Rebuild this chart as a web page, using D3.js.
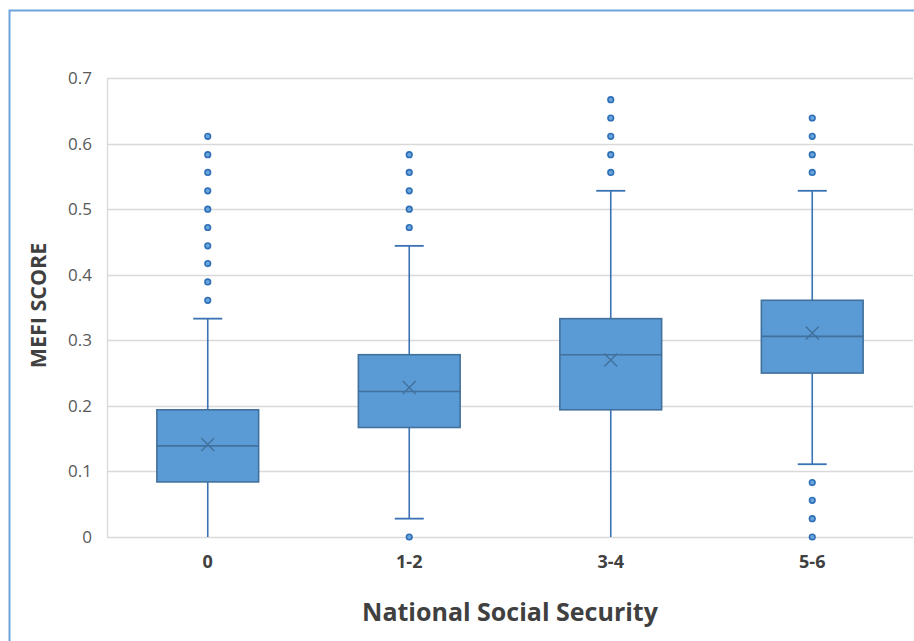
<!DOCTYPE html>
<html>
<head>
<meta charset="utf-8">
<script src="https://cdn.jsdelivr.net/npm/d3@7/dist/d3.min.js"></script>
<style>
  html, body { margin: 0; padding: 0; background: #fff; }
  svg { display: block; }
</style>
</head>
<body>
<svg id="chart" width="914" height="641"></svg>
<script>
// ---- Data ----
const categories = ["0", "1-2", "3-4", "5-6"];
const whiskerLow  = [0.000, 0.028, 0.000, 0.111];
const q1          = [0.084, 0.167, 0.194, 0.250];
const median      = [0.139, 0.222, 0.278, 0.306];
const q3          = [0.194, 0.278, 0.333, 0.361];
const whiskerHigh = [0.333, 0.444, 0.528, 0.528];
const means       = [0.141, 0.228, 0.270, 0.311];
const outliers = [
  [0.361, 0.389, 0.417, 0.444, 0.472, 0.500, 0.528, 0.556, 0.583, 0.611],
  [0.000, 0.472, 0.500, 0.528, 0.556, 0.583],
  [0.556, 0.583, 0.611, 0.639, 0.667],
  [0.000, 0.028, 0.056, 0.083, 0.556, 0.583, 0.611, 0.639]
];
const yTicks = [0, 0.1, 0.2, 0.3, 0.4, 0.5, 0.6, 0.7];
const yTitle = "MEFI SCORE";
const xTitle = "National Social Security";

// ---- Layout ----
const W = 914, H = 641;
const plot = { left: 107, right: 913, top: 78, bottom: 537 };
const svg = d3.select("#chart");

// Frame
svg.append("rect")
  .attr("x", 9.5).attr("y", 10.5)
  .attr("width", W + 20).attr("height", H + 20)
  .attr("fill", "none").attr("stroke", "#6fa3dc").attr("stroke-width", 2);

const x = d3.scaleBand().domain(categories).range([plot.left, plot.right]).padding(0);
const y = d3.scaleLinear().domain([0, 0.7]).range([plot.bottom, plot.top]);

// Gridlines
svg.append("g").selectAll("line").data(yTicks).join("line")
  .attr("x1", plot.left).attr("x2", plot.right)
  .attr("y1", d => Math.round(y(d)) + 0.5).attr("y2", d => Math.round(y(d)) + 0.5)
  .attr("stroke", "#d9d9d9").attr("stroke-width", 1.3);

// Y axis line
svg.append("line")
  .attr("x1", plot.left + 0.5).attr("x2", plot.left + 0.5)
  .attr("y1", plot.top).attr("y2", plot.bottom)
  .attr("stroke", "#d9d9d9").attr("stroke-width", 1.3);

// Y axis tick labels
const yAxis = d3.axisLeft(y).tickValues(yTicks).tickSize(0).tickPadding(0)
  .tickFormat(d => d === 0 ? "0" : d3.format(".1f")(d));
const gy = svg.append("g").attr("transform", `translate(${plot.left - 15},0)`).call(yAxis);
gy.select(".domain").remove();
gy.selectAll("text")
  .attr("font-family", "'Open Sans', sans-serif").attr("font-size", 17)
  .attr("fill", "#595959");

// X axis tick labels
const xAxis = d3.axisBottom(x).tickSize(0).tickPadding(0);
const gx = svg.append("g").attr("transform", `translate(0,${plot.bottom + 18})`).call(xAxis);
gx.select(".domain").remove();
gx.selectAll("text")
  .attr("font-family", "'Open Sans', sans-serif").attr("font-size", 18)
  .attr("font-weight", "bold").attr("fill", "#404040");

// Axis titles
svg.append("text")
  .attr("transform", `translate(46,${(plot.top + plot.bottom) / 2 - 2}) rotate(-90)`)
  .attr("text-anchor", "middle")
  .attr("font-family", "'Open Sans', sans-serif").attr("font-size", 21.5)
  .attr("font-weight", "bold").attr("fill", "#404040")
  .text(yTitle);

svg.append("text")
  .attr("x", (plot.left + plot.right) / 2).attr("y", 621)
  .attr("text-anchor", "middle")
  .attr("font-family", "'Open Sans', sans-serif").attr("font-size", 25)
  .attr("font-weight", "bold").attr("fill", "#404040")
  .text(xTitle);

// Boxes
const boxW = x.bandwidth() * 0.505;
const capW = 29;
const lineColor = "#3a72b4";
const boxStroke = "#41719c";
const boxFill = "#5b9bd5";

const g = svg.append("g");
categories.forEach((c, i) => {
  const cx = x(c) + x.bandwidth() / 2;
  // whiskers
  g.append("line").attr("x1", cx).attr("x2", cx)
    .attr("y1", y(q3[i])).attr("y2", y(whiskerHigh[i]))
    .attr("stroke", lineColor).attr("stroke-width", 1.6);
  g.append("line").attr("x1", cx).attr("x2", cx)
    .attr("y1", y(q1[i])).attr("y2", y(whiskerLow[i]))
    .attr("stroke", lineColor).attr("stroke-width", 1.6);
  // caps
  g.append("line").attr("x1", cx - capW / 2).attr("x2", cx + capW / 2)
    .attr("y1", y(whiskerHigh[i])).attr("y2", y(whiskerHigh[i]))
    .attr("stroke", lineColor).attr("stroke-width", 1.8);
  if (whiskerLow[i] > 0) {
    g.append("line").attr("x1", cx - capW / 2).attr("x2", cx + capW / 2)
      .attr("y1", y(whiskerLow[i])).attr("y2", y(whiskerLow[i]))
      .attr("stroke", lineColor).attr("stroke-width", 1.8);
  }
  // box
  g.append("rect")
    .attr("x", cx - boxW / 2).attr("width", boxW)
    .attr("y", y(q3[i])).attr("height", y(q1[i]) - y(q3[i]))
    .attr("fill", boxFill).attr("stroke", boxStroke).attr("stroke-width", 1.6);
  // median
  g.append("line").attr("x1", cx - boxW / 2).attr("x2", cx + boxW / 2)
    .attr("y1", y(median[i])).attr("y2", y(median[i]))
    .attr("stroke", boxStroke).attr("stroke-width", 1.6);
  // mean X
  const my = y(means[i]), s = 6.5;
  g.append("path")
    .attr("d", `M${cx - s},${my - s}L${cx + s},${my + s}M${cx - s},${my + s}L${cx + s},${my - s}`)
    .attr("stroke", "#41719c").attr("stroke-width", 1.4).attr("fill", "none");
  // outliers
  g.selectAll(null).data(outliers[i]).join("circle")
    .attr("cx", cx).attr("cy", d => y(d)).attr("r", 2.8)
    .attr("fill", "#6aa6dc").attr("stroke", "#2e6fb7").attr("stroke-width", 1.6);
});
</script>
</body>
</html>
